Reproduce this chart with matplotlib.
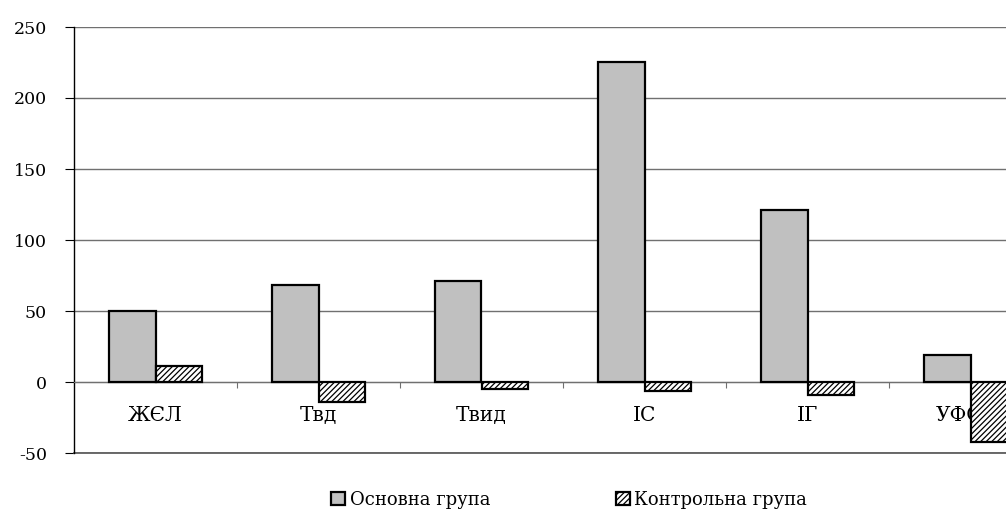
import numpy as np
import matplotlib.pyplot as plt

plt.rcParams['font.family'] = ['DejaVu Serif']
plt.rcParams['hatch.linewidth'] = 0.9
plt.rcParams['axes.unicode_minus'] = False

# data
categories = ['ЖЄЛ', 'Твд', 'Твид', 'ІС', 'ІГ', 'УФСзд']
osnovna = [50, 68, 71, 225, 121, 19]
kontrolna = [11, -14, -5, -6, -9, -42]
labels = ['Основна група', 'Контрольна група']

fig = plt.figure(figsize=(10.06, 5.11), dpi=100)
# plot area runs past the right edge, like the original clipped picture
ax = fig.add_axes([74/1006, 58/511, 978/1006, 426/511])

x = np.arange(len(categories))
w = 0.285
ax.bar(x - w/2, osnovna, w, color='#c0c0c0', edgecolor='black', linewidth=1.6,
       zorder=3, label=labels[0])
ax.bar(x + w/2, kontrolna, w, color='white', edgecolor='black', linewidth=1.6,
       hatch='//////', zorder=3, label=labels[1])

ax.set_xlim(-0.5, len(categories) - 0.5)
ax.set_ylim(-50, 250)
ax.set_yticks(np.arange(-50, 251, 50))
ax.yaxis.grid(True, color='#707070', linewidth=1.0)
ax.axhline(-50, color='#505050', linewidth=1.2, clip_on=False)

# category axis crosses at zero
ax.spines['bottom'].set_position(('data', 0))
ax.spines['bottom'].set_color('#707070')
ax.spines['top'].set_visible(False)
ax.spines['right'].set_visible(False)
ax.spines['left'].set_linewidth(1.0)
ax.set_xticks(np.arange(len(categories)) + 0.5)
ax.set_xticklabels([])
ax.set_xticks(x, minor=True)
ax.set_xticklabels(categories, minor=True, fontsize=14.5)
ax.tick_params(axis='x', which='major', direction='out', length=4, color='#707070')
ax.tick_params(axis='x', which='minor', length=0, pad=17)
ax.tick_params(axis='y', direction='out', length=6.5, labelsize=12.5, pad=13)

fig.legend(loc='center', bbox_to_anchor=(0.566, 0.022), ncol=2, frameon=False,
           fontsize=13, handlelength=0.75, handleheight=0.75, handletextpad=0.25,
           columnspacing=7.0, borderpad=0)

fig.savefig('out.png', dpi=100)
